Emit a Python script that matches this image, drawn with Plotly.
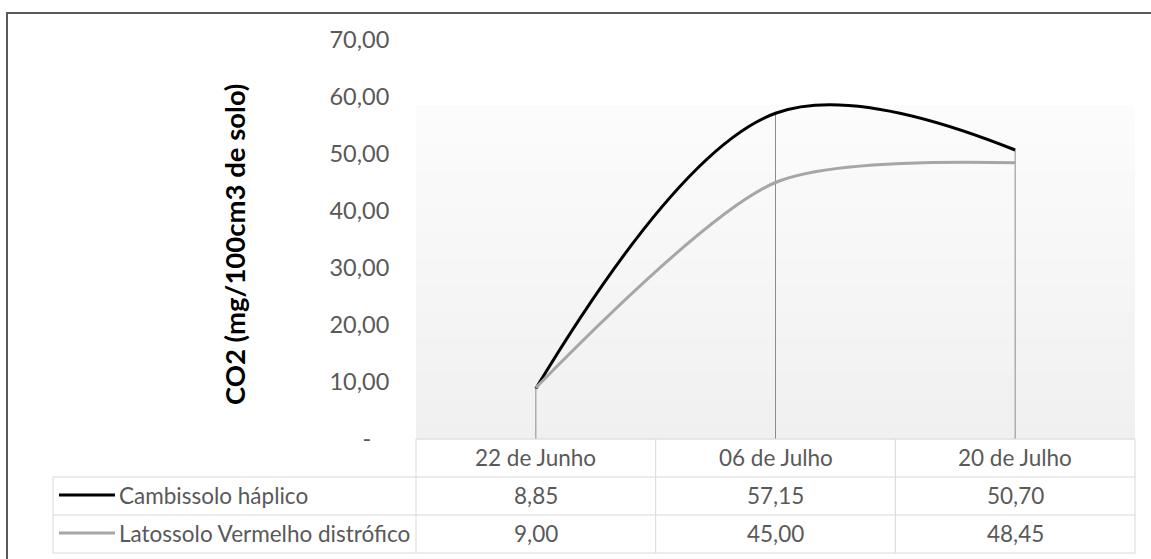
import plotly.graph_objects as go

# ---- data ----
categories = ["22 de Junho", "06 de Julho", "20 de Julho"]
series_names = ["Cambissolo háplico", "Latossolo Vermelho distrófico"]
cambissolo = [8.85, 57.15, 50.70]
latossolo = [9.00, 45.00, 48.45]
y_ticks = [0, 10, 20, 30, 40, 50, 60, 70]
y_tick_text = ["-\u00a0\u00a0\u00a0", "10,00", "20,00", "30,00", "40,00", "50,00", "60,00", "70,00"]
y_title = "CO2 (mg/100cm3 de solo)"

# ---- canvas geometry (pixels) ----
W, H = 1151, 559
FONT = "Lato"
TXT = "#595959"
GRID = "#d9d9d9"
PLOT_L, PLOT_R = 416, 1135
PLOT_T, PLOT_B = 40, 439
SHADE_T = 105
ROW_LINES = [477, 515, 553]
LABEL_L = 53
TABLE_SIZE = 22.5


def px(x):
    return x / W


def py(y):
    return 1 - y / H


def fmt(v):
    return f"{v:.2f}".replace(".", ",")


fig = go.Figure()

series = [cambissolo, latossolo]
colors = ["#000000", "#a6a6a6"]
smoothing = [1.05, 0.75]

# drop lines from the highest point of each category to the axis
for i, cat in enumerate(categories):
    top = max(s[i] for s in series)
    fig.add_trace(go.Scatter(
        x=[cat, cat], y=[0, top], mode="lines",
        line=dict(color="#8c8c8c", width=1),
        hoverinfo="skip", showlegend=False,
    ))

for name, vals, col, sm in zip(series_names, series, colors, smoothing):
    fig.add_trace(go.Scatter(
        x=categories, y=vals, name=name, mode="lines",
        line=dict(color=col, width=3, shape="spline", smoothing=sm),
        showlegend=False,
    ))

shapes = []

# plot area background: vertical gradient from near-white to light gray
n_bands = 50
for k in range(n_bands):
    t = (k + 0.5) / n_bands
    g = round(252 - 12 * t)
    y0 = SHADE_T + (PLOT_B - SHADE_T) * k / n_bands
    y1 = SHADE_T + (PLOT_B - SHADE_T) * (k + 1) / n_bands + 0.6
    shapes.append(dict(
        type="rect", xref="paper", yref="paper", layer="below",
        x0=px(PLOT_L), x1=px(PLOT_R), y0=py(y1), y1=py(y0),
        fillcolor=f"rgb({g},{g},{g})", line=dict(width=0),
    ))

# data table grid
col_w = (PLOT_R - PLOT_L) / len(categories)
col_edges = [PLOT_L + col_w * i for i in range(len(categories) + 1)]
table_bottom = ROW_LINES[-1]


def hline(y, x0, x1):
    shapes.append(dict(type="line", xref="paper", yref="paper",
                       x0=px(x0), x1=px(x1), y0=py(y), y1=py(y),
                       line=dict(color=GRID, width=1)))


def vline(x, y0, y1):
    shapes.append(dict(type="line", xref="paper", yref="paper",
                       x0=px(x), x1=px(x), y0=py(y0), y1=py(y1),
                       line=dict(color=GRID, width=1)))


hline(PLOT_B, PLOT_L, PLOT_R)
for y in ROW_LINES:
    hline(y, LABEL_L, PLOT_R)
for x in col_edges:
    vline(x, PLOT_B, table_bottom)
vline(LABEL_L, ROW_LINES[0], table_bottom)

# legend keys inside the table
row_centers = [(PLOT_B + ROW_LINES[0]) / 2 - 1]
row_centers += [(ROW_LINES[i] + ROW_LINES[i + 1]) / 2 - 1 for i in range(len(ROW_LINES) - 1)]
for j, col in enumerate(colors):
    yk = row_centers[j + 1]
    shapes.append(dict(type="line", xref="paper", yref="paper",
                       x0=px(59), x1=px(115), y0=py(yk), y1=py(yk),
                       line=dict(color=col, width=3)))

# outer chart frame
shapes.append(dict(type="rect", xref="paper", yref="paper",
                   x0=px(7), x1=px(W + 8), y0=py(H + 8), y1=py(13),
                   line=dict(color="#5a5a5a", width=2), fillcolor="rgba(0,0,0,0)"))

annotations = []
for i, cat in enumerate(categories):
    cx = (col_edges[i] + col_edges[i + 1]) / 2
    annotations.append(dict(x=px(cx), y=py(row_centers[0]), xref="paper", yref="paper",
                            text=cat, showarrow=False, xanchor="center", yanchor="middle",
                            font=dict(family=FONT, size=TABLE_SIZE, color=TXT)))
    for j, vals in enumerate(series):
        annotations.append(dict(x=px(cx), y=py(row_centers[j + 1]), xref="paper", yref="paper",
                                text=fmt(vals[i]), showarrow=False, xanchor="center",
                                yanchor="middle",
                                font=dict(family=FONT, size=TABLE_SIZE, color=TXT)))

for j, name in enumerate(series_names):
    annotations.append(dict(x=px(117), y=py(row_centers[j + 1]), xref="paper", yref="paper",
                            text=name, showarrow=False, xanchor="left", yanchor="middle",
                            font=dict(family=FONT, size=TABLE_SIZE, color=TXT)))

annotations.append(dict(x=px(234), y=py(245), xref="paper", yref="paper",
                        text=f"<b>{y_title}</b>", showarrow=False, textangle=-90,
                        xanchor="center", yanchor="middle",
                        font=dict(family=FONT, size=27.5, color="#000000")))

fig.update_layout(
    width=W, height=H,
    margin=dict(l=0, r=0, t=0, b=0, pad=0, autoexpand=False),
    paper_bgcolor="white", plot_bgcolor="rgba(0,0,0,0)",
    font=dict(family=FONT, color=TXT),
    shapes=shapes, annotations=annotations,
    xaxis=dict(domain=[px(PLOT_L), px(PLOT_R)], type="category",
               range=[-0.5, len(categories) - 0.5], automargin=False,
               showticklabels=False, showgrid=False, zeroline=False, showline=False),
    yaxis=dict(domain=[py(PLOT_B), py(PLOT_T)], range=[0, 70], automargin=False,
               tickvals=y_ticks, ticktext=y_tick_text,
               ticks="outside", ticklen=21, tickcolor="rgba(0,0,0,0)",
               tickfont=dict(family=FONT, size=23.5, color=TXT),
               showgrid=False, zeroline=False, showline=False),
)

fig.write_html("out.html")
